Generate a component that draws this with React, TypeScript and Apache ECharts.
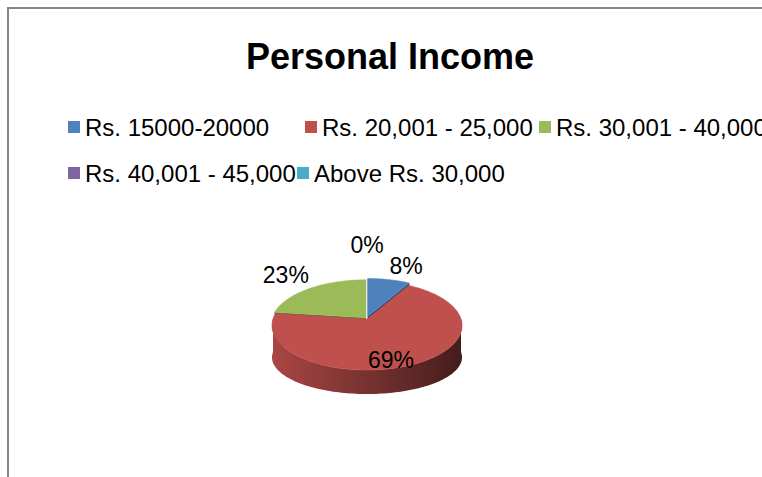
import React, { useEffect, useRef } from "react";
import * as echarts from "echarts";

// ---- data ----
const categories = [
  "Rs. 15000-20000",
  "Rs. 20,001 - 25,000",
  "Rs. 30,001 - 40,000",
  "Rs. 40,001 - 45,000",
  "Above Rs. 30,000",
];
const values = [4, 33, 11, 0, 0];

// ---- styles ----
const colors = ["#4F81BD", "#C0504D", "#9BBB59", "#8064A2", "#4BACC6"];
const explode = [2.5, 0, 1.5, 0, 0];
const FONT = "'Liberation Sans', Arial, sans-serif";

// ---- layout of the 3D pie (perspective ellipse) ----
const CX = 367;
const CY = 319;
const RX = 94;
const RY_TOP = 43.6;
const RY_BOTTOM = 35.9;
const DEPTH = 33;
const PERSP = 0.146;

function shade(hex: string, f: number): string {
  const n = parseInt(hex.slice(1), 16);
  const r = Math.round(((n >> 16) & 255) * f);
  const g = Math.round(((n >> 8) & 255) * f);
  const b = Math.round((n & 255) * f);
  return `rgb(${Math.min(255, r)},${Math.min(255, g)},${Math.min(255, b)})`;
}

// point on the top rim (bottom = false) or the bottom rim (bottom = true)
function pt(theta: number, ox: number, oy: number, bottom = false, s = 1): number[] {
  const k = 1 / (1 + PERSP * Math.cos(theta));
  const ry = bottom ? RY_BOTTOM : RY_TOP;
  const dy = bottom ? DEPTH : 0;
  return [CX + ox + s * RX * Math.sin(theta) * k, CY + oy + dy - s * ry * Math.cos(theta) * k];
}

function arc(a: number, b: number, ox: number, oy: number, bottom = false): number[][] {
  const n = Math.max(2, Math.ceil((b - a) / (Math.PI / 120)));
  const pts: number[][] = [];
  for (let k = 0; k <= n; k++) pts.push(pt(a + ((b - a) * k) / n, ox, oy, bottom));
  return pts;
}

function makeRender(i: number) {
  return () => {
    const total = values.reduce((s, v) => s + v, 0);
    const before = values.slice(0, i).reduce((s, v) => s + v, 0);
    const start = (before / total) * Math.PI * 2;
    const end = start + (values[i] / total) * Math.PI * 2;
    const mid = (start + end) / 2;
    const e = explode[i];
    const ox = e * Math.sin(mid);
    const oy = -e * Math.cos(mid);
    const color = colors[i];
    const children: any[] = [];

    if (values[i] > 0) {
      // top face
      const top = [[CX + ox, CY + oy], ...arc(start, end, ox, oy)];
      children.push({
        type: "polygon",
        z2: 3,
        shape: { points: top },
        style: { fill: color, stroke: color, lineWidth: 0.6 },
      });
      // outer front wall
      const a = Math.max(start, Math.PI / 2);
      const b = Math.min(end, (Math.PI * 3) / 2);
      if (a < b) {
        const wall = [...arc(a, b, ox, oy), ...arc(a, b, ox, oy, true).reverse()];
        children.push({
          type: "polygon",
          z2: 1,
          shape: { points: wall },
          style: {
            fill: {
              type: "linear",
              x: CX - RX,
              y: 0,
              x2: CX + RX,
              y2: 0,
              global: true,
              colorStops: [
                { offset: 0, color: shade(color, 0.88) },
                { offset: 0.5, color: shade(color, 0.62) },
                { offset: 1, color: shade(color, 0.36) },
              ],
            },
          },
        });
      }
      // radial faces for exploded slices
      if (e > 0) {
        [start, end].forEach((th) => {
          children.push({
            type: "polygon",
            z2: 0,
            shape: {
              points: [
                [CX + ox, CY + oy],
                pt(th, ox, oy),
                pt(th, ox, oy, true),
                [CX + ox, CY + oy + DEPTH],
              ],
            },
            style: { fill: shade(color, 0.5) },
          });
        });
      }
    }

    // data label (a zero slice sharing its angle with the previous zero slice
    // would print the same label at the same place)
    const duplicate = values[i] === 0 && i > 0 && values[i - 1] === 0;
    if (!duplicate) {
      const pct = Math.round((values[i] / total) * 100) + "%";
      const frac = values[i] / total;
      let lx: number;
      let ly: number;
      let align = "center";
      let valign = "middle";
      if (frac > 0.5) {
        const k = 1 / (1 + PERSP * Math.cos(mid));
        lx = CX + 0.5 * RX * Math.sin(mid) * k;
        ly = CY - 0.92 * RY_TOP * Math.cos(mid) * k;
      } else {
        const s = Math.sin(mid);
        const c = Math.cos(mid);
        const ep = pt(mid, ox, oy);
        lx = ep[0] + 2 * s;
        ly = ep[1] - 2 * c;
        if (s > 0.15) align = "left";
        else if (s < -0.15) align = "right";
        if (c > 0.15) valign = "bottom";
        else if (c < -0.15) valign = "top";
        if (Math.abs(s) <= 0.15 && c > 0) ly -= 22;
      }
      children.push({
        type: "text",
        z2: 5,
        x: lx,
        y: ly,
        style: {
          text: pct,
          fill: "#000",
          font: `23px ${FONT}`,
          align,
          verticalAlign: valign,
        },
      });
    }

    return { type: "group", children };
  };
}

const legendPos = [
  { left: 68, top: 115 },
  { left: 305, top: 115 },
  { left: 539, top: 115 },
  { left: 68, top: 161 },
  { left: 297, top: 161 },
];

export default function App() {
  const ref = useRef<HTMLDivElement>(null);
  useEffect(() => {
    if (!ref.current) return;
    const chart = echarts.init(ref.current, undefined, { renderer: "svg" });
    chart.setOption({
      animation: false,
      backgroundColor: "#fff",
      title: {
        text: "Personal Income",
        left: 390,
        top: 38,
        textAlign: "center",
        padding: 0,
        textStyle: { fontFamily: FONT, fontSize: 36, fontWeight: "bold", color: "#000" },
      },
      legend: categories.map((name, i) => ({
        data: [name],
        left: legendPos[i].left,
        top: legendPos[i].top,
        padding: 0,
        icon: "rect",
        itemWidth: 12,
        itemHeight: 12,
        selectedMode: false,
        textStyle: { fontFamily: FONT, fontSize: 24, color: "#000", lineHeight: 24 },
      })),
      graphic: [
        {
          type: "rect",
          shape: { x: 8, y: 8, width: 900, height: 600 },
          style: { fill: "none", stroke: "#868686", lineWidth: 2 },
          z: 100,
          silent: true,
        },
      ],
      series: categories.map((name, i) => ({
        type: "custom",
        name,
        coordinateSystem: "none",
        itemStyle: { color: colors[i] },
        data: [[values[i]]],
        renderItem: makeRender(i),
        silent: true,
      })),
    });
    return () => chart.dispose();
  }, []);
  return (
    <div
      ref={ref}
      style={{ position: "absolute", left: 0, top: 0, width: 762, height: 477 }}
    />
  );
}
